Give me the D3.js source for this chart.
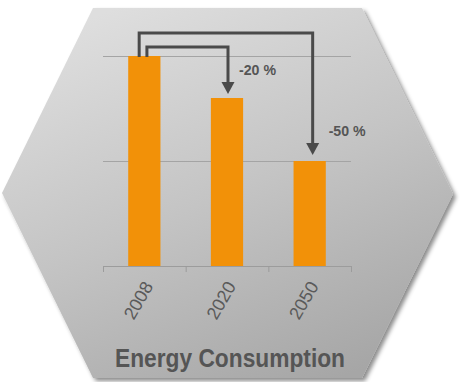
<!DOCTYPE html>
<html>
<head>
<meta charset="utf-8">
<script src="https://cdn.jsdelivr.net/npm/d3@7"></script>
<style>
  html, body { margin: 0; padding: 0; background: #fff; }
  svg { display: block; }
  text { font-family: "Liberation Sans", Arial, sans-serif; }
</style>
</head>
<body>
<svg id="chart" width="461" height="382"></svg>
<script>
// Energy consumption index by year (2008 = 100)
const years = ["2008", "2020", "2050"];
const consumption = [100, 80, 50];
const gridValues = [50, 100];
const changeTargets = ["2020", "2050"];
const changeLabels = ["-20 %", "-50 %"];
const title = "Energy Consumption";

(function draw() {
  const svg = d3.select("#chart");
  const defs = svg.append("defs");

  // hexagon background fill
  const grad = defs.append("linearGradient")
    .attr("id", "hexFill")
    .attr("x1", "0.25").attr("y1", "0")
    .attr("x2", "0.75").attr("y2", "1");
  grad.append("stop").attr("offset", "0").attr("stop-color", "#dedede");
  grad.append("stop").attr("offset", "0.5").attr("stop-color", "#c4c4c4");
  grad.append("stop").attr("offset", "1").attr("stop-color", "#a6a6a6");

  const shadow = defs.append("filter").attr("id", "hexShadow")
    .attr("x", "-10%").attr("y", "-10%").attr("width", "120%").attr("height", "120%");
  shadow.append("feDropShadow")
    .attr("dx", 3).attr("dy", 3).attr("stdDeviation", 2)
    .attr("flood-color", "#000").attr("flood-opacity", 0.45);

  const hex = [[93, 8], [362, 8], [453, 194], [362, 378], [93, 378], [2, 193]];
  svg.append("path")
    .attr("d", d3.line()(hex) + "Z")
    .attr("fill", "url(#hexFill)")
    .attr("filter", "url(#hexShadow)");

  // plot area
  const pl = 103, pr = 351, pt = 56, pb = 266;

  const x = d3.scaleBand().domain(years).range([pl, pr]).paddingInner(0.61).paddingOuter(0.305);
  const y = d3.scaleLinear().domain([0, 100]).range([pb, pt]);

  // horizontal gridlines
  svg.append("g")
    .attr("transform", `translate(${pl},0)`)
    .call(d3.axisLeft(y).tickValues(gridValues).tickSize(-(pr - pl)).tickFormat(""))
    .call(g => g.select(".domain").remove())
    .call(g => g.selectAll(".tick line").attr("stroke", "#a4a4a4").attr("stroke-width", 1));

  // category axis with ticks on band boundaries
  const edges = d3.scaleLinear().domain([0, years.length]).range([pl, pr]);
  svg.append("g")
    .attr("transform", `translate(0,${pb})`)
    .call(d3.axisBottom(edges).tickValues(d3.range(years.length + 1)).tickSize(6).tickSizeOuter(0).tickFormat(""))
    .call(g => g.select(".domain").attr("stroke", "#9c9c9c").attr("d", `M${pl},0.5H${pr}`))
    .call(g => g.selectAll(".tick line").attr("stroke", "#9c9c9c"));

  // bars
  svg.append("g").selectAll("rect")
    .data(years)
    .join("rect")
    .attr("x", d => x(d))
    .attr("y", (d, i) => y(consumption[i]))
    .attr("width", x.bandwidth())
    .attr("height", (d, i) => pb - y(consumption[i]))
    .attr("fill", "#f29108");

  // rotated year labels
  svg.append("g").selectAll("text")
    .data(years)
    .join("text")
    .attr("transform", d => `translate(${x(d) + x.bandwidth() / 2 + 4},${pb + 17}) rotate(-60)`)
    .attr("text-anchor", "end")
    .attr("dy", "0.35em")
    .attr("font-size", 18)
    .attr("fill", "#5a5a5a")
    .text(d => d);

  // change arrows from the 2008 bar
  const arrowColor = "#4a4a4a";
  const base = years[0];
  const startFrac = [0.58, 0.34];
  const riseAbove = [9, 23];
  const labelDx = [11, 16];
  changeTargets.forEach((t, k) => {
    const i = years.indexOf(t);
    const x0 = x(base) + x.bandwidth() * startFrac[k];
    const x1 = x(t) + x.bandwidth() / 2 + 1 + k * 2;
    const yTop = y(consumption[0]) - riseAbove[k];
    const tip = y(consumption[i]) - 4 - k * 2;
    const head = 12;
    svg.append("path")
      .attr("d", `M${x0},${y(consumption[0]) + 1}V${yTop}H${x1}V${tip - head + 1}`)
      .attr("fill", "none")
      .attr("stroke", arrowColor)
      .attr("stroke-width", 3)
      .attr("stroke-linejoin", "miter");
    svg.append("path")
      .attr("d", `M${x1 - 6.5},${tip - head}L${x1 + 6.5},${tip - head}L${x1},${tip}Z`)
      .attr("fill", arrowColor);
    svg.append("text")
      .attr("x", x1 + labelDx[k])
      .attr("y", tip - 19)
      .attr("font-size", 15.5)
      .attr("font-weight", "bold")
      .attr("fill", "#555")
      .attr("textLength", 37)
      .attr("lengthAdjust", "spacingAndGlyphs")
      .text(changeLabels[k]);
  });

  // title
  svg.append("text")
    .attr("x", 115)
    .attr("y", 367)
    .attr("font-size", 25)
    .attr("font-weight", "bold")
    .attr("fill", "#555")
    .attr("textLength", 230)
    .attr("lengthAdjust", "spacingAndGlyphs")
    .text(title);
})();
</script>
</body>
</html>
